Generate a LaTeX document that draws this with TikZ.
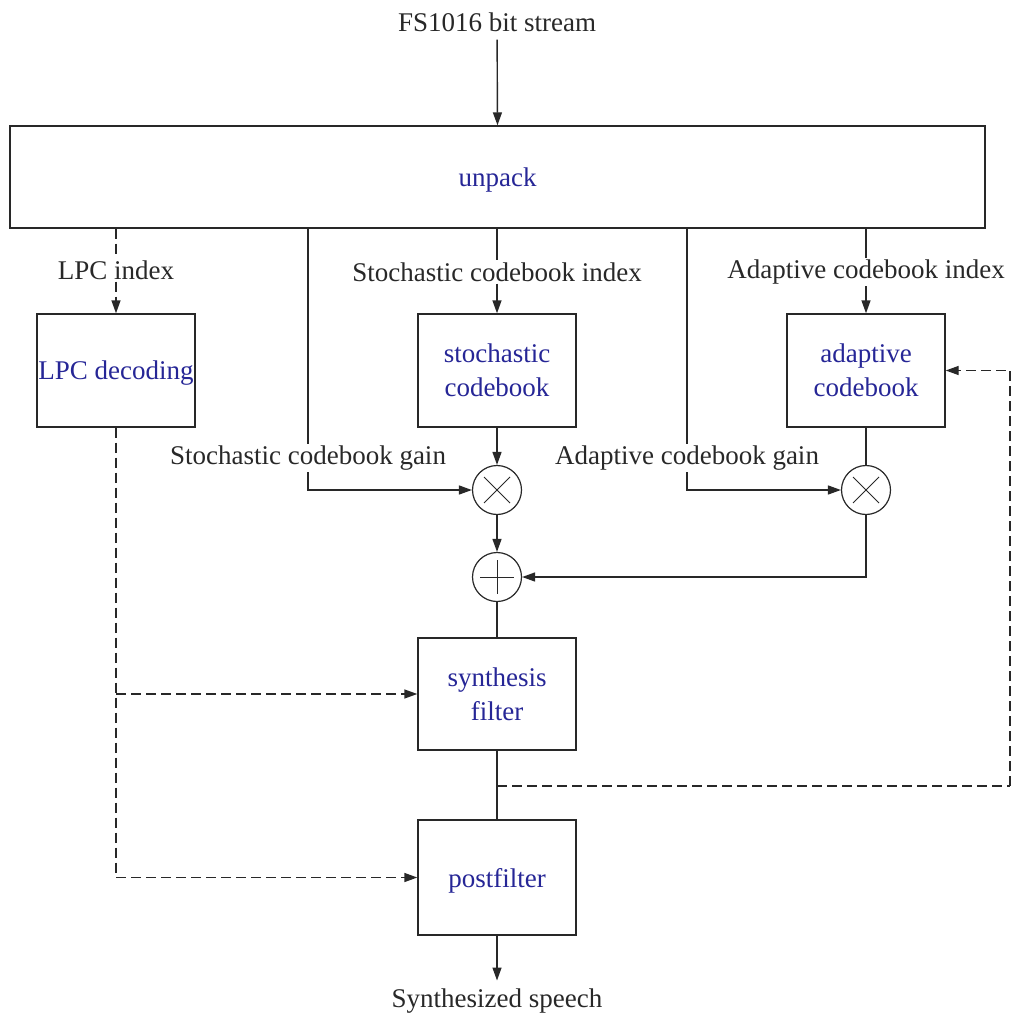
\documentclass[tikz,border=0pt]{standalone}
\usepackage{fontspec}
\setmainfont{Liberation Serif}
\usetikzlibrary{arrows.meta}
\definecolor{lbl}{RGB}{38,38,150}
\definecolor{ink}{RGB}{40,40,40}
\begin{document}
\begin{tikzpicture}[x=1pt,y=-1pt,
  every node/.style={font=\fontsize{27}{34}\selectfont, text=ink},
  wire/.style={line width=1.4pt, draw=ink},
  arr/.style={wire, -{Triangle[length=13pt,width=9pt]}},
  dsh/.style={dash pattern=on 10pt off 5pt},
  blk/.style={draw=ink, line width=1.4pt, minimum width=158pt, minimum height=113pt,
              text=lbl, align=center, inner sep=0pt, text depth=0pt},
  lab/.style={inner sep=2pt},
  term/.style={inner sep=8pt},
  junc/.style={circle, draw=ink, line width=1.2pt, minimum size=49pt, inner sep=0pt},
  mult/.style={junc, path picture={
      \draw[line width=1pt, ink]
        ([shift={(-13,-13)}]path picture bounding box.center) -- ([shift={(13,13)}]path picture bounding box.center)
        ([shift={(-13,13)}]path picture bounding box.center) -- ([shift={(13,-13)}]path picture bounding box.center);}},
  add/.style={junc, path picture={
      \draw[line width=1pt, ink]
        ([shift={(-17,0)}]path picture bounding box.center) -- ([shift={(17,0)}]path picture bounding box.center)
        ([shift={(0,-17)}]path picture bounding box.center) -- ([shift={(0,17)}]path picture bounding box.center);}}
]
\useasboundingbox (0,0) rectangle (1012,1016);

% blocks
\node[term] (src) at (497,22) {FS1016 bit stream};
\node[blk, minimum width=975pt, minimum height=102pt] (unpack) at (497.5,177) {unpack};
\node[blk] (lpc)   at (116,370.5) {LPC decoding};
\node[blk] (stoch) at (497,370.5) {stochastic\\codebook};
\node[blk] (adapt) at (866,370.5) {adaptive\\codebook};
\node[mult] (m1) at (497,490) {};
\node[mult] (m2) at (866,490) {};
\node[add] (sum) at (497,577) {};
\node[blk, minimum height=112pt] (synth) at (497,694) {synthesis\\filter};
\node[blk, minimum height=115pt] (post) at (497,877.5) {postfilter};
\node[term] (out) at (497,1001) {Synthesized speech};

% signal labels
\node[lab] (lLPC) at (116,270) {LPC index};
\node[lab] (lSI)  at (497,272) {Stochastic codebook index};
\node[lab] (lAI)  at (866,272) {Adaptive codebook index};
\node[lab] (lSG)  at (308,458) {Stochastic codebook gain};
\node[lab] (lAG)  at (687,458) {Adaptive codebook gain};

% input and output
\draw[arr] (src) -- (unpack.north);
\draw[arr] (post.south) -- (out.north);

% parameters out of the unpacker
\draw[wire, dsh] (unpack.south -| lpc) -- (lLPC.north);
\draw[arr, dsh]  (lLPC.south) -- (lpc.north);
\draw[wire] (unpack.south -| stoch) -- (lSI.north);
\draw[arr]  (lSI.south) -- (stoch.north);
\draw[wire] (unpack.south -| adapt) -- (lAI.north);
\draw[arr]  (lAI.south) -- (adapt.north);
\draw[wire] (unpack.south -| lSG) -- (lSG.north);
\draw[arr]  (lSG.south) |- (m1.west);
\draw[wire] (unpack.south -| lAG) -- (lAG.north);
\draw[arr]  (lAG.south) |- (m2.west);

% excitation path
\draw[arr]  (stoch.south) -- (m1.north);
\draw[wire] (adapt.south) -- (m2.north);
\draw[arr]  (m1.south) -- (sum.north);
\draw[arr]  (m2.south) |- (sum.east);
\draw[wire] (sum.south) -- (synth.north);
\draw[wire] (synth.south) -- (post.north);

% feedback into the adaptive codebook
\coordinate (tap) at (497,786);
\coordinate (fb)  at (1010,786);
\draw[wire, dsh] (tap) -- (fb);
\draw[arr, dsh]  (fb) |- (adapt.east);

% LPC coefficients to the filters
\draw[arr, dsh] (lpc.south) |- (post.west);
\draw[arr, dsh] (lpc.south |- synth.west) -- (synth.west);
\end{tikzpicture}
\end{document}
